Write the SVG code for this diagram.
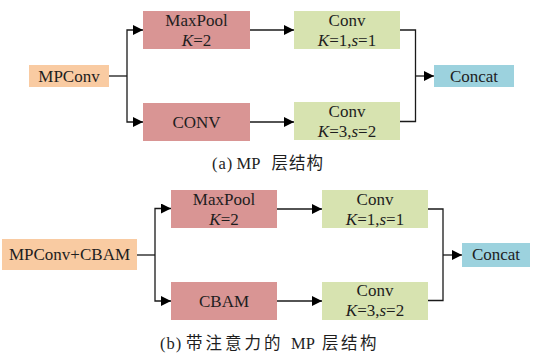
<svg xmlns="http://www.w3.org/2000/svg" width="540" height="353" viewBox="0 0 540 353">
  <defs>
    <marker id="arr" viewBox="0 0 10 10" refX="10" refY="5" markerWidth="10" markerHeight="10" markerUnits="userSpaceOnUse" orient="auto">
      <path d="M0,0 L10,5 L0,10 z" fill="#000"/>
    </marker>
    <style>
      .in { fill: #F9CBA2; }
      .pool { fill: #D99594; }
      .conv { fill: #D7E3B0; }
      .cat { fill: #9CD2DE; }
      .lbl { fill: #1e1e1e; text-anchor: middle; }
      .cap { fill: #1e1e1e; }
      .edge { fill: none; stroke: #1a1a1a; stroke-width: 1.3; }
    </style>
  </defs>

  <g font-family="Liberation Serif, DejaVu Serif, serif" font-size="17">
    <!-- (a) MP layer -->
    <g id="a-mpconv">
      <rect class="in" x="29" y="65" width="80" height="22"/>
      <text class="lbl" x="69" y="82">MPConv</text>
    </g>
    <g id="a-maxpool">
      <rect class="pool" x="143" y="11" width="107" height="38"/>
      <text class="lbl" x="196.5" y="26">MaxPool</text>
      <text class="lbl" x="196.5" y="45.5"><tspan font-style="italic">K</tspan>=2</text>
    </g>
    <g id="a-conv-branch">
      <rect class="pool" x="143" y="103" width="107" height="38"/>
      <text class="lbl" x="196.5" y="128">CONV</text>
    </g>
    <g id="a-conv1">
      <rect class="conv" x="294" y="11" width="106" height="38"/>
      <text class="lbl" x="347" y="26">Conv</text>
      <text class="lbl" x="347" y="45.5"><tspan font-style="italic">K</tspan>=1,<tspan font-style="italic">s</tspan>=1</text>
    </g>
    <g id="a-conv2">
      <rect class="conv" x="294" y="102" width="106" height="38"/>
      <text class="lbl" x="347" y="117">Conv</text>
      <text class="lbl" x="347" y="137"><tspan font-style="italic">K</tspan>=3,<tspan font-style="italic">s</tspan>=2</text>
    </g>
    <g id="a-concat">
      <rect class="cat" x="434" y="65" width="80" height="22"/>
      <text class="lbl" x="474" y="82">Concat</text>
    </g>

    <!-- (b) MP layer with attention -->
    <g id="b-mpconv-cbam">
      <rect class="in" x="2" y="239" width="135" height="31"/>
      <text class="lbl" x="69.5" y="260">MPConv+CBAM</text>
    </g>
    <g id="b-maxpool">
      <rect class="pool" x="171" y="190" width="106" height="38"/>
      <text class="lbl" x="224" y="204.5">MaxPool</text>
      <text class="lbl" x="224" y="224.5"><tspan font-style="italic">K</tspan>=2</text>
    </g>
    <g id="b-cbam">
      <rect class="pool" x="171" y="282" width="106" height="38"/>
      <text class="lbl" x="224" y="306.5">CBAM</text>
    </g>
    <g id="b-conv1">
      <rect class="conv" x="322" y="190" width="106" height="38"/>
      <text class="lbl" x="375" y="204.5">Conv</text>
      <text class="lbl" x="375" y="225"><tspan font-style="italic">K</tspan>=1,<tspan font-style="italic">s</tspan>=1</text>
    </g>
    <g id="b-conv2">
      <rect class="conv" x="322" y="282" width="106" height="38"/>
      <text class="lbl" x="375" y="295.5">Conv</text>
      <text class="lbl" x="375" y="315.5"><tspan font-style="italic">K</tspan>=3,<tspan font-style="italic">s</tspan>=2</text>
    </g>
    <g id="b-concat">
      <rect class="cat" x="462" y="243" width="68" height="24"/>
      <text class="lbl" x="496" y="260">Concat</text>
    </g>
  </g>

  <!-- captions -->
  <g font-family="Liberation Serif, Noto Sans CJK SC, serif" font-size="16.5">
    <text class="cap" y="169"><tspan x="212" letter-spacing="1">(a)</tspan><tspan x="236.5">MP</tspan><tspan x="271.5">层</tspan><tspan x="289">结</tspan><tspan x="306.5">构</tspan></text>
    <text class="cap" y="349"><tspan x="160" letter-spacing="1">(b)</tspan><tspan x="186">带</tspan><tspan x="205.5">注</tspan><tspan x="225">意</tspan><tspan x="244.5">力</tspan><tspan x="264">的</tspan><tspan x="291">MP</tspan><tspan x="322">层</tspan><tspan x="341">结</tspan><tspan x="360">构</tspan></text>
  </g>

  <g id="connectors">
    <!-- (a) -->
    <path class="edge" d="M109,76 H127"/>
    <path class="edge" d="M127,76 V30 H143" marker-end="url(#arr)"/>
    <path class="edge" d="M127,76 V122 H143" marker-end="url(#arr)"/>
    <path class="edge" d="M250,30 H294" marker-end="url(#arr)"/>
    <path class="edge" d="M250,122 H294" marker-end="url(#arr)"/>
    <path class="edge" d="M400,30 H415.5 V121.5 H400"/>
    <path class="edge" d="M415.5,76 H434" marker-end="url(#arr)"/>
    <!-- (b) -->
    <path class="edge" d="M137,255 H155"/>
    <path class="edge" d="M155,255 V208.5 H171" marker-end="url(#arr)"/>
    <path class="edge" d="M155,255 V301 H171" marker-end="url(#arr)"/>
    <path class="edge" d="M277,209 H322" marker-end="url(#arr)"/>
    <path class="edge" d="M277,301 H322" marker-end="url(#arr)"/>
    <path class="edge" d="M428,209 H443 V300.5 H428"/>
    <path class="edge" d="M443,255 H462" marker-end="url(#arr)"/>
  </g>
</svg>
